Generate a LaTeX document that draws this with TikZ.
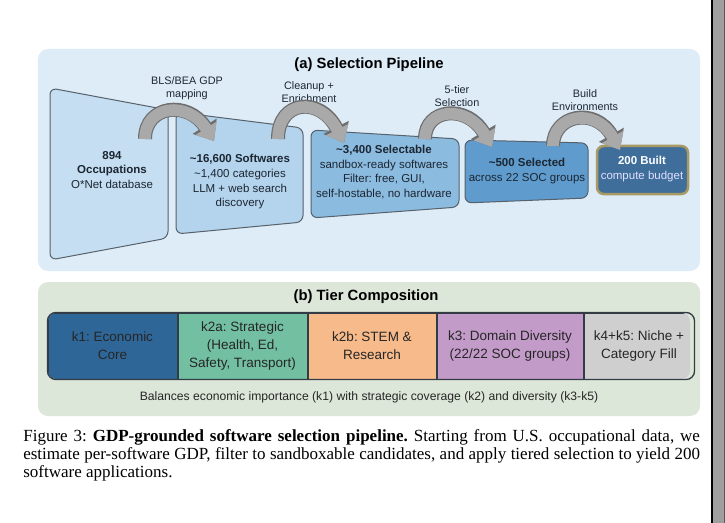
\documentclass[tikz,border=0pt]{standalone}
\usepackage{fontspec}
\setmainfont{Liberation Sans}
\newfontfamily\capfont{Liberation Serif}
\usepackage{tikz}
\usetikzlibrary{arrows.meta,positioning}
\frenchspacing
\definecolor{panelA}{HTML}{DEECF7}
\definecolor{panelB}{HTML}{DDE7D9}
\definecolor{occfill}{HTML}{C6DEF1}
\definecolor{softfill}{HTML}{B4D3EC}
\definecolor{selfill}{HTML}{8CBBE0}
\definecolor{pickfill}{HTML}{5F9BCD}
\definecolor{builtfill}{HTML}{3F6E9B}
\definecolor{builtedge}{HTML}{A89A62}
\definecolor{stageedge}{HTML}{56616C}
\definecolor{inkdark}{HTML}{1C2733}
\definecolor{arrowgray}{HTML}{A9A9A9}
\definecolor{arrowedge}{HTML}{6E6E6E}
\definecolor{k1col}{HTML}{2F6698}
\definecolor{k2acol}{HTML}{72BFA2}
\definecolor{k2bcol}{HTML}{F7BA8A}
\definecolor{k3col}{HTML}{C39BC9}
\definecolor{k4col}{HTML}{CFCFCF}
\definecolor{tieredge}{HTML}{333B44}
\definecolor{pagegray}{HTML}{9E9E9E}
\tikzstyle{paneltitle} = [text=black, font=\bfseries\fontsize{8.9}{10}\selectfont]
\tikzstyle{stage} = [draw=stageedge, line width=0.6pt, rounded corners=4pt]
\tikzstyle{stagetext} = [align=center, text=inkdark, font=\fontsize{6.9}{8.8}\selectfont]
\tikzstyle{flowlabel} = [align=center, text=inkdark, font=\fontsize{6.5}{7.6}\selectfont]
\tikzstyle{flow} = [draw=arrowgray, line width=7pt, -{Triangle[width=14.5pt,length=9pt]}, preaction={draw=arrowedge, line width=8.4pt, -{Triangle[width=16.5pt,length=10.5pt]}}]
\tikzstyle{tier} = [draw=tieredge, line width=0.6pt, minimum height=39.6pt, inner sep=0pt, align=center, text=black!85, font=\fontsize{8.1}{10.8}\selectfont]
\tikzstyle{tiernote} = [text=black!85, font=\fontsize{7.3}{9}\selectfont]
\tikzstyle{captiontext} = [text width=406pt, align=justify, inner sep=0pt, font=\capfont\fontsize{10.2}{10.8}\selectfont]

\begin{document}
\begin{tikzpicture}[x=0.6pt, y=-0.6pt]

% canvas =============================
\useasboundingbox (0,0) rectangle (725,523);
\fill[white] (0,0) rectangle (725,523);
\fill[pagegray] (711,0) rectangle (725,523);
\fill[black] (711,0) rectangle (713,523);
\fill[black!65] (723.5,0) rectangle (725,523);

% panels
\fill[panelA, rounded corners=6pt] (38,49) rectangle (700,271);
\fill[panelB, rounded corners=6pt] (38,282) rectangle (700,416);
\node[paneltitle] (titleA) at (369,65) {(a) Selection Pipeline};
\node[paneltitle] (titleB) at (366,297) {(b) Tier Composition};

% pipeline stages =============================
\draw[stage, fill=occfill] (50,88) -- (168,110) -- (168,238) -- (50,260) -- cycle;
\draw[stage, fill=softfill] (176,112) -- (303,128) -- (303,222) -- (176,234) -- cycle;
\draw[stage, fill=selfill] (311,130) -- (459,139) -- (459,207) -- (311,218) -- cycle;
\draw[stage, fill=pickfill] (465,140) -- (588,143) -- (588,198) -- (465,203) -- cycle;
\draw[stage, draw=builtedge, line width=1.5pt, fill=builtfill] (597,146) rectangle (688,194);

\node[stagetext] (occ) at (112,170) {\textbf{894}\\\textbf{Occupations}\\O*Net database};
\node[stagetext] (soft) at (240,182) {\textbf{\textasciitilde16,600 Softwares}\\\textasciitilde1,400 categories\\LLM + web search\\discovery};
\node[stagetext] (sel) at (384,172) {\textbf{\textasciitilde3,400 Selectable}\\sandbox-ready softwares\\Filter: free, GUI,\\self-hostable, no hardware};
\node[stagetext] (picked) at (527,171) {\textbf{\textasciitilde500 Selected}\\across 22 SOC groups};
\node[stagetext, text=white] (built) at (642,169) {\textbf{200 Built}\\{\color{white!88!blue}compute budget}};

% step labels
\node[flowlabel] (lab1) at (187,88) {BLS/BEA GDP\\mapping};
\node[flowlabel] (lab2) at (309,92) {Cleanup +\\Enrichment};
\node[flowlabel] (lab3) at (457,96) {5-tier\\Selection};
\node[flowlabel] (lab4) at (585,100) {Build\\Environments};

% arrow ends
\coordinate (a1s) at (145,139);
\coordinate (a1e) at (214,141);
\coordinate (a2s) at (278,139);
\coordinate (a2e) at (344,143);
\coordinate (a3s) at (425,139);
\coordinate (a3e) at (492,147);
\coordinate (a4s) at (553,146);
\coordinate (a4e) at (620,150);

%edges
\path[flow] (a1s) .. controls (145,105) and (188,100) .. (a1e);
\path[flow] (a2s) .. controls (278,100) and (320,96) .. (a2e);
\path[flow] (a3s) .. controls (425,108) and (467,104) .. (a3e);
\path[flow] (a4s) .. controls (553,115) and (595,106) .. (a4e);

% tiers =============================
\begin{scope}
\clip[rounded corners=5pt] (48,313) rectangle (690,379);
\node[tier, fill=k1col, minimum width=77.4pt] (k1) at (112.5,346) {k1: Economic\\Core};
\node[tier, fill=k2acol, minimum width=77.4pt, right=0pt of k1] (k2a) {k2a: Strategic\\(Health, Ed,\\Safety, Transport)};
\node[tier, fill=k2bcol, minimum width=76.8pt, right=0pt of k2a] (k2b) {k2b: STEM \&\\Research};
\node[tier, fill=k3col, minimum width=87.6pt, right=0pt of k2b] (k3) {k3: Domain Diversity\\(22/22 SOC groups)};
\node[tier, fill=k4col, minimum width=66pt, right=0pt of k3] (k4) {k4+k5: Niche +\\Category Fill};
\end{scope}
\draw[draw=tieredge, line width=0.8pt, rounded corners=5pt] (k1.north west) rectangle (k4.south east);

\node[tiernote] (note) at (369,397) {Balances economic importance (k1) with strategic coverage (k2) and diversity (k3-k5)};

% caption
\node[captiontext, anchor=north west] (caption) at (23,429) {Figure 3: \textbf{GDP-grounded software selection pipeline.} Starting from U.S. occupational data, we estimate per-software GDP, filter to sandboxable candidates, and apply tiered selection to yield 200 software applications.};

\end{tikzpicture}
\end{document}
